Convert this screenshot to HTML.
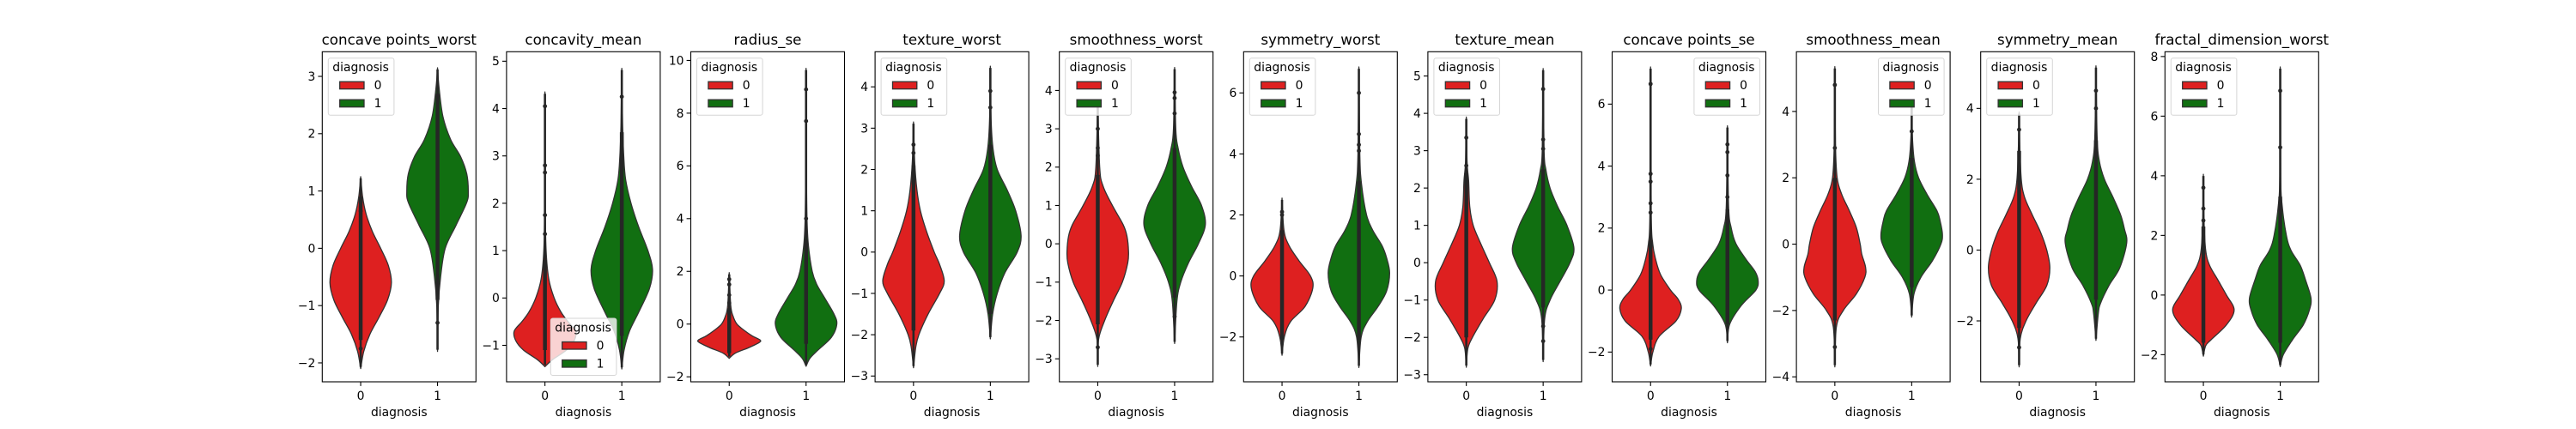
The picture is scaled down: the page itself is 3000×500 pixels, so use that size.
<!DOCTYPE html>
<html><head><meta charset="utf-8"><style>
html,body{margin:0;padding:0;background:#fff;}
svg{display:block;font-family:"DejaVu Sans","Liberation Sans",sans-serif;}
</style></head><body>
<svg id="fig" width="3000" height="500" viewBox="0 0 3000 500" xmlns="http://www.w3.org/2000/svg"></svg>
<script>
const titles = ["concave points_worst","concavity_mean","radius_se","texture_worst","smoothness_worst","symmetry_worst","texture_mean","concave points_se","smoothness_mean","symmetry_mean","fractal_dimension_worst"];
const yMins = [-2.33,-1.77,-2.19,-3.14,-3.6,-3.47,-3.19,-2.96,-4.15,-3.72,-2.91];
const yMaxs = [3.43,5.2,10.33,4.85,5.01,7.35,5.65,7.69,5.8,5.6,8.16];
const yTicks = [[-2,-1,0,1,2,3],[-1,0,1,2,3,4,5],[-2,0,2,4,6,8,10],[-3,-2,-1,0,1,2,3,4],[-3,-2,-1,0,1,2,3,4],[-2,0,2,4,6],[-3,-2,-1,0,1,2,3,4,5],[-2,0,2,4,6],[-4,-2,0,2,4],[-2,0,2,4],[-2,0,2,4,6,8]];
const legendPos = ["ul","lc","ul","ul","ul","ul","ul","ur","ur","ul","ul"];
const categories = ["0","1"];
// violin profiles: [value, half-width in category units]
const violin0 = [
 [[-2.1,0],[-1.8,0.04],[-1.5,0.12],[-1.2,0.24],[-0.9,0.35],[-0.6,0.40],[-0.3,0.36],[0,0.26],[0.3,0.15],[0.6,0.07],[0.9,0.025],[1.25,0]],
 [[-1.45,0],[-1.3,0.1],[-1.1,0.28],[-0.9,0.38],[-0.7,0.40],[-0.5,0.3],[-0.3,0.21],[0,0.12],[0.4,0.05],[1.0,0.015],[2,0.003],[4.35,0]],
 [[-1.3,0],[-1.1,0.08],[-0.9,0.25],[-0.7,0.39],[-0.6,0.40],[-0.45,0.3],[-0.25,0.2],[0,0.1],[0.3,0.05],[0.7,0.02],[1.95,0]],
 [[-2.8,0],[-2.3,0.03],[-2,0.07],[-1.5,0.19],[-1.0,0.34],[-0.7,0.40],[-0.3,0.34],[0,0.27],[0.5,0.17],[1.0,0.09],[1.5,0.045],[2.2,0.015],[3.15,0]],
 [[-3.2,0],[-2.5,0.01],[-2,0.09],[-1.5,0.2],[-1,0.32],[-0.5,0.39],[-0.2,0.40],[0.2,0.38],[0.5,0.33],[1,0.19],[1.5,0.07],[2,0.025],[3.7,0]],
 [[-2.6,0],[-2,0.03],[-1.5,0.11],[-1,0.30],[-0.4,0.40],[0,0.37],[0.5,0.22],[1,0.09],[1.5,0.025],[2.55,0]],
 [[-2.8,0],[-2.3,0.02],[-2,0.08],[-1.5,0.22],[-1,0.37],[-0.5,0.40],[0,0.30],[0.5,0.19],[1,0.09],[1.5,0.045],[2.2,0.03],[2.7,0.01],[3.9,0]],
 [[-2.45,0],[-2,0.03],[-1.5,0.11],[-1,0.33],[-0.6,0.40],[-0.3,0.36],[0,0.26],[0.5,0.13],[1,0.065],[1.5,0.028],[2.5,0.008],[7.2,0]],
 [[-3.7,0],[-2.5,0.02],[-2,0.11],[-1.5,0.28],[-1,0.39],[-0.7,0.40],[-0.3,0.35],[0,0.33],[0.5,0.28],[1,0.19],[1.5,0.09],[2,0.03],[3,0.008],[5.35,0]],
 [[-3.3,0],[-2.5,0.015],[-2,0.09],[-1.5,0.22],[-1,0.36],[-0.5,0.40],[0,0.36],[0.5,0.28],[1,0.17],[1.5,0.07],[2,0.028],[3,0.008],[3.9,0]],
 [[-2.05,0],[-1.7,0.03],[-1.5,0.1],[-1,0.30],[-0.5,0.40],[0,0.30],[0.5,0.19],[1,0.08],[1.5,0.03],[2.5,0.008],[4.05,0]]
];
const violin1 = [
 [[-1.8,0],[-1.0,0.01],[-0.5,0.04],[0,0.1],[0.4,0.24],[0.8,0.38],[1.0,0.40],[1.3,0.38],[1.6,0.3],[1.9,0.17],[2.3,0.07],[2.8,0.02],[3.15,0]],
 [[-1.5,0],[-1.1,0.03],[-0.7,0.1],[-0.3,0.22],[0.2,0.36],[0.6,0.40],[1.0,0.34],[1.5,0.22],[2.0,0.12],[2.5,0.05],[3.0,0.025],[3.7,0.01],[4.85,0]],
 [[-1.6,0],[-1.3,0.05],[-1.0,0.15],[-0.5,0.33],[0,0.40],[0.4,0.36],[1,0.24],[1.5,0.14],[2,0.08],[3,0.03],[4,0.012],[6,0.004],[9.7,0]],
 [[-2.1,0],[-1.5,0.03],[-1,0.09],[-0.5,0.19],[0,0.35],[0.4,0.40],[1,0.33],[1.5,0.22],[2,0.09],[2.5,0.035],[3.2,0.01],[4.5,0]],
 [[-2.6,0],[-1.5,0.03],[-1,0.08],[-0.5,0.18],[0,0.31],[0.5,0.40],[1,0.35],[1.5,0.22],[2,0.11],[2.5,0.045],[3,0.015],[4.6,0]],
 [[-3,0],[-2,0.03],[-1.5,0.11],[-1,0.25],[-0.5,0.36],[0.1,0.40],[0.6,0.36],[1,0.30],[1.5,0.18],[2,0.1],[3,0.035],[4,0.012],[6.85,0]],
 [[-2.65,0],[-1.5,0.02],[-1,0.09],[-0.5,0.22],[0,0.35],[0.4,0.40],[1,0.31],[1.5,0.19],[2,0.09],[2.5,0.035],[3,0.012],[5.2,0]],
 [[-1.7,0],[-1.1,0.03],[-0.5,0.18],[0,0.37],[0.3,0.40],[0.6,0.36],[1,0.24],[1.5,0.11],[2,0.05],[2.7,0.015],[5.3,0]],
 [[-2.2,0],[-1.5,0.03],[-1,0.12],[-0.5,0.27],[0,0.38],[0.3,0.40],[0.7,0.37],[1,0.33],[1.5,0.2],[2,0.09],[2.5,0.035],[3.2,0.01],[4.2,0]],
 [[-2.55,0],[-1.8,0.03],[-1.5,0.06],[-1,0.17],[-0.5,0.31],[0.2,0.40],[0.6,0.37],[1,0.32],[1.5,0.22],[2,0.11],[2.5,0.045],[3.2,0.015],[5.2,0]],
 [[-2.4,0],[-2,0.04],[-1.5,0.16],[-1,0.30],[-0.5,0.38],[-0.1,0.40],[0.5,0.33],[1,0.26],[1.5,0.14],[2,0.08],[3,0.025],[4,0.005],[7.65,0]]
];
// dense point strip ranges [lo, hi]
const strip0 = [[-1.6,0.9],[-1.1,0.8],[-1.1,0.6],[-1.9,2.1],[-2.1,1.8],[-2.1,1.5],[-2.0,2.4],[-1.6,1.6],[-2.3,2.0],[-2.2,2.8],[-1.6,2.3]];
const strip1 = [[-0.9,2.7],[-0.8,3.5],[-0.75,3.2],[-1.5,2.6],[-1.4,2.5],[-2.1,3.1],[-1.2,2.5],[-1.1,2.6],[-1.3,2.6],[-1.4,3.1],[-1.6,3.3]];
// individual outlier points
const outliers0 = [[-1.75,0.65],[1.35,1.75,2.65,2.8,4.05],[0.8,1.1,1.5,1.7],[2.4,2.6],[-2.7,2.3,2.5,3.0],[2.0,2.1],[2.6,3.35],[-1.9,2.5,2.8,3.5,3.75,6.65],[-3.1,2.9,4.8],[-2.75,3.4],[2.5,2.9,3.6]];
const outliers1 = [[-1.3],[4.25],[4.0,7.7,8.9],[3.5,3.9],[-1.9,3.4,3.8,3.95],[4.1,4.3,4.65,6.0],[-1.7,-2.1,3.05,3.3,4.65],[3.0,3.7,4.45,4.7],[3.4],[4.0,4.5],[4.95,6.85]];

const NS = "http://www.w3.org/2000/svg";
const svg = document.getElementById('fig');
function mk(tag, attrs, parent){ const e=document.createElementNS(NS,tag); for(const k in attrs) e.setAttribute(k,attrs[k]); (parent||svg).appendChild(e); return e; }
const AX0 = 375.3, STEP = 214.6, AW = 179, AT = 60.3, AB = 445;
const fills = ["#de2020","#116f11"];

function crPath(pts){
  let d = "M"+pts[0][0].toFixed(2)+","+pts[0][1].toFixed(2);
  for(let i=0;i<pts.length-1;i++){
    const p0=pts[Math.max(0,i-1)], p1=pts[i], p2=pts[i+1], p3=pts[Math.min(pts.length-1,i+2)];
    const c1=[p1[0]+(p2[0]-p0[0])/6, p1[1]+(p2[1]-p0[1])/6];
    const c2=[p2[0]-(p3[0]-p1[0])/6, p2[1]-(p3[1]-p1[1])/6];
    d += " C"+c1[0].toFixed(2)+","+c1[1].toFixed(2)+" "+c2[0].toFixed(2)+","+c2[1].toFixed(2)+" "+p2[0].toFixed(2)+","+p2[1].toFixed(2);
  }
  return d;
}

for(let s=0;s<titles.length;s++){
  const L = AX0 + s*STEP;
  const g = mk('g',{});
  
  
  const ys = v => AB - (v - yMins[s])/(yMaxs[s]-yMins[s])*(AB-AT);
  const xs = c => L + (c + 0.5)/2*AW;
  const t = mk('text',{x:L+AW/2,y:52,'text-anchor':'middle','font-size':'16.7',fill:'#000'},g);
  t.textContent = titles[s];
  
  
  yTicks[s].forEach(v=>{
    const y=ys(v);
    mk('line',{x1:L-4.9,x2:L,y1:y,y2:y,stroke:'#000','stroke-width':1.1},g);
    const tl=mk('text',{x:L-8,y:y+4.9,'text-anchor':'end','font-size':'13.9',fill:'#000'},g);
    tl.textContent = v<0 ? "\u2212"+Math.abs(v) : String(v);
    
    
  });
  categories.forEach((c,i)=>{
    const x=xs(i);
    mk('line',{x1:x,x2:x,y1:AB,y2:AB+4.9,stroke:'#000','stroke-width':1.1},g);
    const tl=mk('text',{x:x,y:AB+21,'text-anchor':'middle','font-size':'13.9',fill:'#000'},g);
    tl.textContent=c;
    
    
  });
  const xl=mk('text',{x:L+AW/2,y:485,'text-anchor':'middle','font-size':'13.9',fill:'#000'},g);
  xl.textContent='diagnosis';
  
  
  [violin0[s], violin1[s]].forEach((prof,i)=>{
    const cx = xs(i), unit = AW/2;
    const right = prof.map(p=>[cx+p[1]*unit, ys(p[0])]);
    const left = prof.slice().reverse().map(p=>[cx-p[1]*unit, ys(p[0])]);
    const d = crPath(right)+" "+crPath(left).replace(/^M/,"L")+" Z";
    const v = mk('path',{d:d,fill:fills[i],stroke:'#333','stroke-width':1.3,'stroke-linejoin':'round'},g);
    
    
    const lo = prof[0][0], hi = prof[prof.length-1][0];
    const ln = mk('line',{x1:cx,x2:cx,y1:ys(lo)-2,y2:ys(hi)+2,stroke:'#262626','stroke-width':2.6},g);
    
    
    const sr = i===0 ? strip0[s] : strip1[s];
    const st = mk('line',{x1:cx,x2:cx,y1:ys(sr[0]),y2:ys(sr[1]),stroke:'#262626','stroke-width':4.5},g);
    
    
    const ol = i===0 ? outliers0[s] : outliers1[s];
    ol.forEach(v2=>{
      const c=mk('circle',{cx:cx,cy:ys(v2),r:2.4,fill:'#262626'},g);
      
      
    });
  });
  const fr = mk('rect',{x:L,y:AT,width:AW,height:AB-AT,fill:'none',stroke:'#000','stroke-width':1.1},g);
  
  
  let lx, ly;
  if(legendPos[s]==="ul"){lx=L+7;ly=67.7;}
  else if(legendPos[s]==="ur"){lx=L+95.4;ly=67.7;}
  else {lx=L+51.4;ly=371;}
  const lg = mk('g',{},g);
  
  
  mk('rect',{x:lx,y:ly,width:76.6,height:66.5,rx:2.5,fill:'#fff','fill-opacity':0.8,stroke:'#d6d6d6','stroke-width':1},lg);
  const lt=mk('text',{x:lx+37.8,y:ly+15.5,'text-anchor':'middle','font-size':'13.9',fill:'#000'},lg);
  lt.textContent='diagnosis';
  
  
  categories.forEach((c,i)=>{
    const py = ly+27.5+i*21;
    const pr=mk('rect',{x:lx+13.4,y:py,width:28.3,height:8.5,fill:fills[i],stroke:'#333','stroke-width':1.3},lg);
    
    
    const tx=mk('text',{x:lx+57.7,y:py+9,'text-anchor':'middle','font-size':'13.9',fill:'#000'},lg);
    tx.textContent=c;
    
    
  });
}
</script>
</body></html>
